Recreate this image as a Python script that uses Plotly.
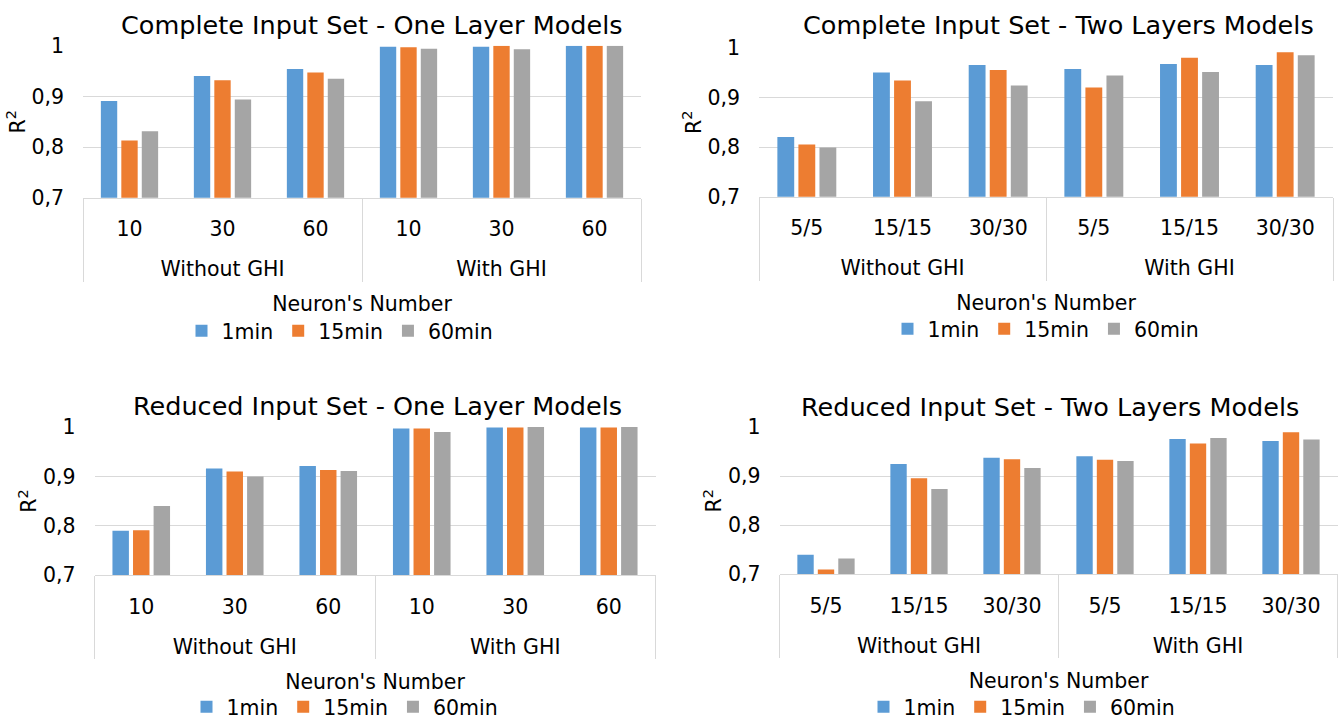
import plotly.graph_objects as go

# ---- data -------------------------------------------------------------
groups = ["Without GHI", "With GHI"]
neurons_one_layer = ["10", "30", "60"]
neurons_two_layers = ["5/5", "15/15", "30/30"]
series_names = ["1min", "15min", "60min"]
series_colors = ["#5B9BD5", "#ED7D31", "#A5A5A5"]

# Complete input set - one hidden layer
complete_one_1min = [0.891, 0.940, 0.954, 0.998, 0.998, 1.000]
complete_one_15min = [0.813, 0.932, 0.947, 0.997, 1.000, 1.000]
complete_one_60min = [0.831, 0.894, 0.935, 0.994, 0.993, 1.000]

# Complete input set - two hidden layers
complete_two_1min = [0.820, 0.950, 0.965, 0.957, 0.967, 0.965]
complete_two_15min = [0.805, 0.934, 0.955, 0.920, 0.980, 0.991]
complete_two_60min = [0.799, 0.892, 0.924, 0.944, 0.951, 0.985]

# Reduced input set - one hidden layer
reduced_one_1min = [0.790, 0.916, 0.921, 0.997, 0.999, 0.999]
reduced_one_15min = [0.791, 0.910, 0.913, 0.997, 0.999, 0.999]
reduced_one_60min = [0.840, 0.900, 0.911, 0.990, 1.000, 1.000]

# Reduced input set - two hidden layers
reduced_two_1min = [0.740, 0.925, 0.938, 0.941, 0.976, 0.972]
reduced_two_15min = [0.710, 0.896, 0.935, 0.934, 0.967, 0.990]
reduced_two_60min = [0.732, 0.874, 0.917, 0.931, 0.978, 0.975]

panel_titles = [
    "Complete Input Set - One Layer Models",
    "Complete Input Set - Two Layers Models",
    "Reduced Input Set - One Layer Models",
    "Reduced Input Set - Two Layers Models",
]

# ---- layout geometry (pixels in a 1338 x 720 page) --------------------
W, H = 1338, 720
FONT = "DejaVu Sans"
GRID = "#D9D9D9"
TXT = 20.5

panels = [
    dict(cats=neurons_one_layer,
         values=[complete_one_1min, complete_one_15min, complete_one_60min],
         x0=83, x1=641, top=45.7, bottom=197.7,
         title_x=372, title_y=25, legend_x=340, legend_y=331),
    dict(cats=neurons_two_layers,
         values=[complete_two_1min, complete_two_15min, complete_two_60min],
         x0=759, x1=1333, top=47.7, bottom=196.7,
         title_x=1058, title_y=25, legend_x=1046, legend_y=329),
    dict(cats=neurons_one_layer,
         values=[reduced_one_1min, reduced_one_15min, reduced_one_60min],
         x0=94.5, x1=655.5, top=427, bottom=575.3,
         title_x=377, title_y=406, legend_x=345, legend_y=707),
    dict(cats=neurons_two_layers,
         values=[reduced_two_1min, reduced_two_15min, reduced_two_60min],
         x0=779.5, x1=1337.5, top=427.3, bottom=574.3,
         title_x=1050, title_y=407, legend_x=1022, legend_y=707),
]

fig = go.Figure()
annotations = []
layout_axes = {}

for i, p in enumerate(panels):
    n = "" if i == 0 else str(i + 1)
    legend_name = "legend" + n
    # outer level sits one blank line lower than the neuron labels
    outer = ["<br>" + g for g in groups for _ in p["cats"]]
    inner = list(p["cats"]) * len(groups)

    for name, color, vals in zip(series_names, series_colors, p["values"]):
        fig.add_trace(go.Bar(
            x=[outer, inner], y=vals, name=name,
            marker=dict(color=color, line=dict(width=0)),
            xaxis="x" + n, yaxis="y" + n,
            legend=legend_name, showlegend=True,
            hovertemplate="%{y}<extra>" + name + "</extra>",
        ))

    layout_axes["xaxis" + n] = dict(
        type="multicategory",
        domain=[p["x0"] / W, p["x1"] / W],
        anchor="y" + n,
        showline=True, linecolor=GRID, linewidth=1.3,
        showgrid=False,
        showdividers=True, dividercolor=GRID, dividerwidth=1.3,
        ticklabelstandoff=13,
        tickfont=dict(family=FONT, size=TXT, color="#000000"),
        title=dict(text="Neuron's Number",
                   font=dict(family=FONT, size=TXT, color="#000000"),
                   standoff=16),
    )
    layout_axes["yaxis" + n] = dict(
        domain=[1 - p["bottom"] / H, 1 - p["top"] / H],
        anchor="x" + n,
        range=[0.7, 1.0], dtick=0.1, tick0=0.7,
        showgrid=True, gridcolor=GRID, gridwidth=1.3,
        zeroline=False, showline=False,
        ticks="", ticklabelstandoff=18,
        tickfont=dict(family=FONT, size=TXT, color="#000000"),
        title=dict(text="R<sup>2</sup>",
                   font=dict(family=FONT, size=TXT, color="#000000"),
                   standoff=0),
    )
    layout_axes[legend_name] = dict(
        orientation="h",
        x=p["legend_x"] / W, y=1 - p["legend_y"] / H,
        xanchor="center", yanchor="middle",
        font=dict(family=FONT, size=TXT, color="#000000"),
        bgcolor="rgba(0,0,0,0)",
        itemsizing="constant",
    )
    annotations.append(dict(
        text=panel_titles[i], showarrow=False,
        xref="paper", yref="paper",
        x=p["title_x"] / W, y=1 - p["title_y"] / H,
        xanchor="center", yanchor="middle",
        font=dict(family=FONT, size=25.5, color="#000000"),
    ))

fig.update_layout(
    width=W, height=H,
    margin=dict(l=0, r=0, t=0, b=0, autoexpand=False),
    paper_bgcolor="white", plot_bgcolor="white",
    font=dict(family=FONT, size=TXT, color="#000000"),
    separators=",.",
    barmode="group", bargap=0.34, bargroupgap=0.2,
    annotations=annotations,
    **layout_axes,
)

fig.write_html("out.html")
